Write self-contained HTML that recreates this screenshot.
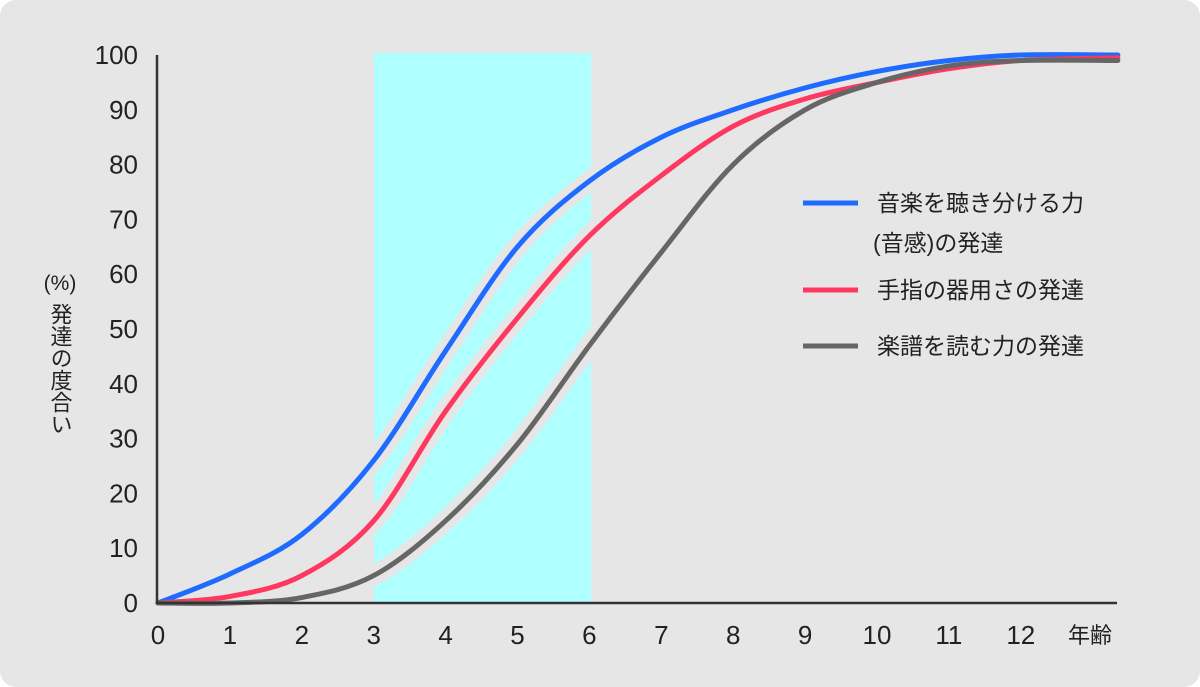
<!DOCTYPE html>
<html><head><meta charset="utf-8"><style>
html,body{margin:0;padding:0;background:#fff;}
svg{display:block;font-family:"Liberation Sans","Noto Sans CJK JP",sans-serif;}
</style></head><body>
<svg id="s" width="1200" height="687" xmlns="http://www.w3.org/2000/svg">
<rect x="0" y="0" width="1200" height="687" rx="16" fill="#e6e6e6"/>
<rect x="374" y="53" width="217" height="550" fill="#b0ffff"/>
<g id="halo" fill="none" stroke="#e6e6e6" stroke-width="20" stroke-linecap="butt"></g>
<g id="lines" fill="none" stroke-width="5" stroke-linecap="round"></g>
<line x1="157" y1="55" x2="157" y2="604" stroke="#333" stroke-width="2.5"/>
<line x1="156" y1="603" x2="1117" y2="603" stroke="#333" stroke-width="2.5"/>
<g font-size="26" fill="#222" text-anchor="end" id="yt"></g>
<g font-size="26" fill="#222" text-anchor="middle" id="xt"></g>
<text x="1090" y="643" font-size="22" fill="#222" text-anchor="middle">年齢</text>
<text x="60" y="290" font-size="21" fill="#222" text-anchor="middle">(%)</text>
<text x="60" y="303" font-size="22" fill="#222" style="writing-mode:vertical-rl">発達の度合い</text>
<line x1="803" y1="203" x2="858" y2="203" stroke="#1f6bff" stroke-width="5"/>
<line x1="803" y1="290" x2="858" y2="290" stroke="#ff3860" stroke-width="5"/>
<line x1="803" y1="346" x2="858" y2="346" stroke="#666" stroke-width="5"/>
<g font-size="23" fill="#222">
<text x="877" y="211">音楽を聴き分ける力</text>
<text x="873" y="251">(音感)の発達</text>
<text x="877" y="298">手指の器用さの発達</text>
<text x="877" y="354">楽譜を読む力の発達</text>
</g>
<defs><clipPath id="cp"><rect x="374" y="53" width="217" height="550"/></clipPath></defs>
</svg>
<script>
var X=a=>158+a*71.9, Y=v=>603-v*5.48;
var ages=[0,1,2,3,4,5,6,7,8,9,10,11,12,13.35];
var data=[
 ["#1f6bff",[0,5.3,12.5,26,46,65,77,85,90,94,97,99,100,100]],
 ["#ff3860",[0,1.2,5,15,35,52,67,78,87,92,95,97.5,99,99.5]],
 ["#666",[0,0,1,5,15,29,47,64,80,90,95,98,99,99]]];
function path(v){var p=ages.map((a,i)=>[X(a),Y(v[i])]);var d="M"+p[0];
for(var i=0;i<p.length-1;i++){var p0=p[i-1]||p[i],p1=p[i],p2=p[i+1],p3=p[i+2]||p2;
d+=" C"+(p1[0]+(p2[0]-p0[0])/6)+","+(p1[1]+(p2[1]-p0[1])/6)+" "+(p2[0]-(p3[0]-p1[0])/6)+","+(p2[1]-(p3[1]-p1[1])/6)+" "+p2;}return d;}
var ns="http://www.w3.org/2000/svg",h=document.getElementById("halo"),l=document.getElementById("lines");
h.setAttribute("clip-path","url(#cp)");
data.forEach(function(s){var d=path(s[1]);
var a=document.createElementNS(ns,"path");a.setAttribute("d",d);h.appendChild(a);
var b=document.createElementNS(ns,"path");b.setAttribute("d",d);b.setAttribute("stroke",s[0]);l.appendChild(b);});
var yt=document.getElementById("yt"),xt=document.getElementById("xt");
for(var v=0;v<=100;v+=10){var t=document.createElementNS(ns,"text");t.setAttribute("x",138);t.setAttribute("y",Y(v)+9);t.textContent=v;yt.appendChild(t);}
for(var a=0;a<=12;a++){var t=document.createElementNS(ns,"text");t.setAttribute("x",X(a));t.setAttribute("y",644);t.textContent=a;xt.appendChild(t);}
</script>
</body></html>
